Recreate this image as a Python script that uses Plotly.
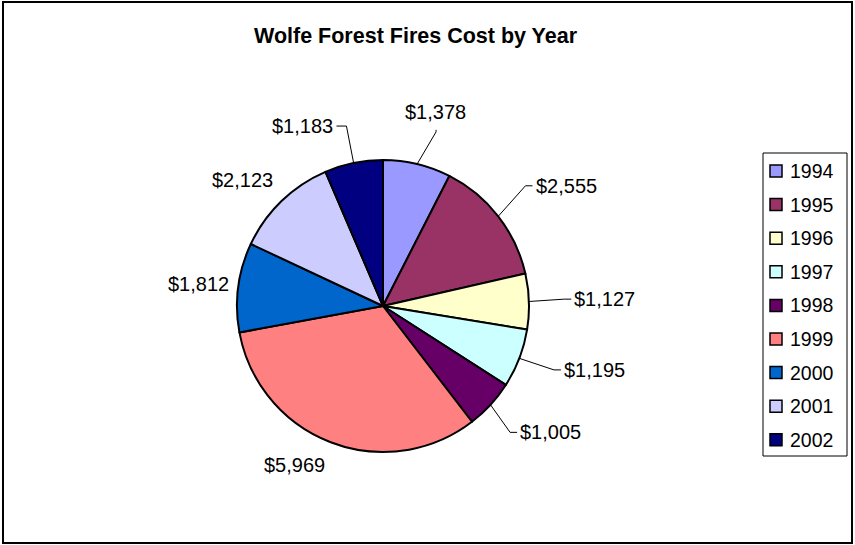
import math
import plotly.graph_objects as go

# Yearly fire costs for Wolfe Forest
years = ["1994", "1995", "1996", "1997", "1998", "1999", "2000", "2001", "2002"]
costs = [1378, 2555, 1127, 1195, 1005, 5969, 1812, 2123, 1183]
colors = ["#9999FF", "#993366", "#FFFFCC", "#CCFFFF", "#660066",
          "#FF8080", "#0066CC", "#CCCCFF", "#000080"]
title_text = "Wolfe Forest Fires Cost by Year"

# ---- layout constants (pixels) ----
W, H = 855, 545
CX, CY, R = 383, 306, 146
FONT = "Liberation Sans, Arial, sans-serif"
LABEL_SIZE = 20
# label placement: angular shift from slice middle (deg) and distance from centre (px)
label_shift = [1.5, 4.6, 0, -4.2, -5.6, 8, -0.6, -4, -12.4]
label_dist = [201, 219, 222, 221, 210, 182, 186, 189, 197]
leader_side = ["b", "l", "l", "l", "l", None, None, None, "r"]


def px(x):
    return x / W


def py(y):
    return 1 - y / H


def polar(angle_deg, dist):
    a = math.radians(angle_deg)
    return CX + dist * math.sin(a), CY - dist * math.cos(a)


fig = go.Figure()
fig.add_trace(go.Pie(
    labels=years, values=costs, sort=False, direction="clockwise", rotation=0,
    marker=dict(colors=colors, line=dict(color="black", width=2)),
    textinfo="none", showlegend=False,
    domain=dict(x=[px(CX - R), px(CX + R)], y=[py(CY + R), py(CY - R)]),
))

annotations = []
shapes = []

# data labels and leader lines
total = sum(costs)
cum = 0
for i, v in enumerate(costs):
    mid = (cum + v / 2) / total * 360
    cum += v
    lx, ly = polar(mid + label_shift[i], label_dist[i])
    text = "${:,}".format(v)
    annotations.append(dict(
        x=px(lx), y=py(ly), xref="paper", yref="paper", text=text,
        showarrow=False, xanchor="center", yanchor="middle",
        font=dict(family=FONT, size=LABEL_SIZE, color="black"),
    ))
    side = leader_side[i]
    if side:
        tw = 3.06 * LABEL_SIZE
        sx, sy = polar(mid, R)
        if side == "l":
            ex, ey = lx - tw / 2 - 3, ly
            bx, by = ex - 7, ey
        elif side == "r":
            ex, ey = lx + tw / 2 + 3, ly
            bx, by = ex + 10, ey
        else:
            ex, ey = lx + 1, ly + 18
            bx, by = ex, ey + 2
        path = "M {:.4f} {:.4f} L {:.4f} {:.4f} L {:.4f} {:.4f}".format(
            px(sx), py(sy), px(bx), py(by), px(ex), py(ey))
        shapes.append(dict(type="path", xref="paper", yref="paper", path=path,
                           line=dict(color="black", width=1)))

# legend
LEG_X0, LEG_X1, LEG_Y0, LEG_Y1 = 763, 847, 153, 456
shapes.append(dict(type="rect", xref="paper", yref="paper",
                   x0=px(LEG_X0), x1=px(LEG_X1), y0=py(LEG_Y1), y1=py(LEG_Y0),
                   line=dict(color="black", width=1), fillcolor="rgba(0,0,0,0)"))
first_y, step = 171, 33.6
for i, (yr, c) in enumerate(zip(years, colors)):
    yc = first_y + i * step
    shapes.append(dict(type="rect", xref="paper", yref="paper",
                       x0=px(770), x1=px(782), y0=py(yc + 6), y1=py(yc - 6),
                       line=dict(color="black", width=1.5), fillcolor=c))
    annotations.append(dict(
        x=px(788), y=py(yc), xref="paper", yref="paper", text=yr,
        showarrow=False, xanchor="left", yanchor="middle",
        font=dict(family=FONT, size=19.5, color="black"),
    ))

# title
annotations.append(dict(
    x=px(416), y=py(36), xref="paper", yref="paper",
    text="<b>" + title_text + "</b>", showarrow=False,
    xanchor="center", yanchor="middle",
    font=dict(family=FONT, size=21.5, color="black"),
))

# chart area border
shapes.append(dict(type="rect", xref="paper", yref="paper",
                   x0=px(3), x1=px(852), y0=py(543), y1=py(2),
                   line=dict(color="black", width=2), fillcolor="rgba(0,0,0,0)"))

fig.update_layout(
    width=W, height=H, autosize=False,
    margin=dict(l=0, r=0, t=0, b=0),
    paper_bgcolor="white", plot_bgcolor="white",
    showlegend=False,
    annotations=annotations, shapes=shapes,
)

fig.write_html("out.html")
